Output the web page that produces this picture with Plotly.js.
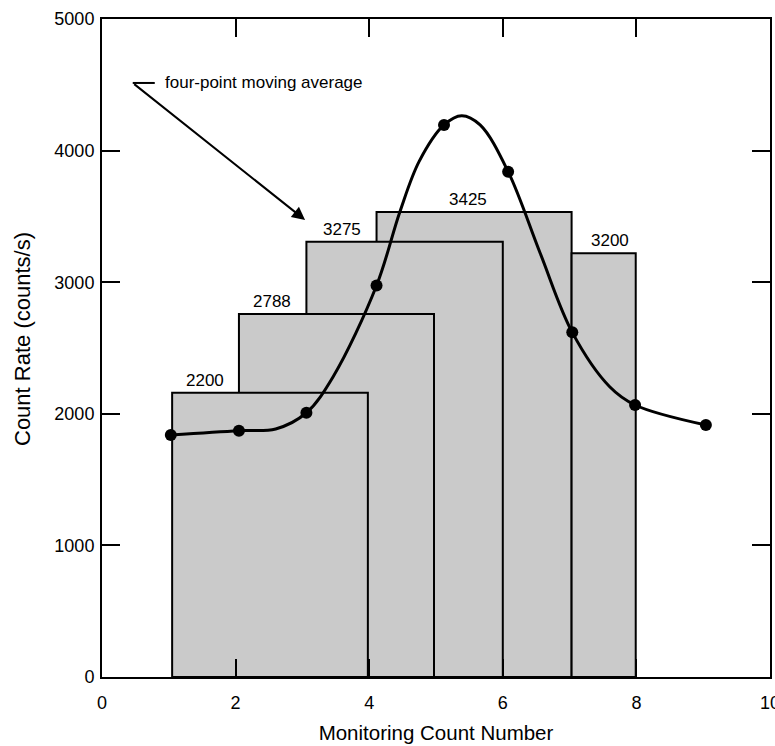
<!DOCTYPE html>
<html>
<head>
<meta charset="utf-8">
<script src="https://cdn.plot.ly/plotly-3.0.1.min.js"></script>
<style>html,body{margin:0;padding:0;background:#fff;}#chart{width:775px;height:746px;}</style>
</head>
<body>
<div id="chart"></div>
<script>
// Moving-average rectangles (drawing order: back to front)
const barLabels = ["2200", "2788", "3275", "3425", "3200"];
const barLeft   = [1.05, 2.05, 3.06, 4.11, 7.03];
const barRight  = [3.98, 4.97, 6.00, 7.03, 7.99];
const barHeight = [2160, 2758, 3308, 3533, 3220];
const labelX    = [1.54, 2.54, 3.59, 5.48, 7.60];
const drawOrder = [3, 2, 1, 0, 4];

// Count-rate points (markers)
const countX = [1.03, 2.05, 3.06, 4.11, 5.12, 6.08, 7.04, 7.98, 9.04];
const countY = [1839, 1872, 2008, 2975, 4195, 3840, 2619, 2067, 1915];

// Path of the drawn smooth curve
const curveX = [1.03, 2.05, 2.60, 3.06, 3.46, 4.11, 4.46, 4.75, 5.12, 5.385, 5.66, 6.08, 6.56, 7.04, 7.60, 7.98, 9.04];
const curveY = [1839, 1872, 1885, 2008, 2282, 2975, 3536, 3920, 4195, 4265, 4195, 3840, 3220, 2619, 2206, 2067, 1915];

// Arrow annotation
const noteText = "four-point moving average";
const arrowCorner = [0.46, 4514];
const arrowTickEnd = [0.79, 4514];
const arrowHead = [3.04, 3473];

const FONT = "Liberation Sans, Arial, sans-serif";

const traces = [];
drawOrder.forEach(i => {
  traces.push({
    type: "bar",
    x: [(barLeft[i] + barRight[i]) / 2],
    y: [barHeight[i]],
    width: [barRight[i] - barLeft[i]],
    marker: {color: "#cacaca", line: {color: "#000", width: 2}},
    hoverinfo: "skip",
    showlegend: false
  });
});
traces.push({
  type: "scatter", mode: "lines",
  x: [arrowCorner[0], arrowTickEnd[0]], y: [arrowCorner[1], arrowTickEnd[1]],
  line: {color: "#000", width: 2}, showlegend: false, hoverinfo: "skip"
});
traces.push({
  type: "scatter", mode: "lines",
  x: curveX, y: curveY,
  line: {color: "#000", width: 3, shape: "spline", smoothing: 1.0},
  showlegend: false, hoverinfo: "skip"
});
traces.push({
  type: "scatter", mode: "markers",
  x: countX, y: countY,
  marker: {color: "#000", size: 12},
  showlegend: false
});

const annotations = barLabels.map((t, i) => ({
  x: labelX[i], y: barHeight[i], xref: "x", yref: "y",
  text: t, showarrow: false, yanchor: "bottom", xanchor: "center",
  yshift: 1, font: {family: FONT, size: 17, color: "#000"}
}));
annotations.push({
  x: arrowHead[0], y: arrowHead[1], ax: arrowCorner[0], ay: arrowCorner[1],
  xref: "x", yref: "y", axref: "x", ayref: "y",
  text: "", showarrow: true, arrowhead: 2, arrowsize: 1.3, arrowwidth: 2, arrowcolor: "#000"
});
annotations.push({
  x: 0.91, y: arrowCorner[1], xref: "x", yref: "y",
  text: noteText, showarrow: false, xanchor: "left", yanchor: "middle",
  font: {family: FONT, size: 17, color: "#000"}
});
const L = 102, R = 5, T = 19, B = 69, W = 775, H = 746;
// y-axis title placed at its pixel position, converted to paper coordinates
annotations.push({
  x: (22 - L) / (W - L - R), y: 1 - (339 - T) / (H - T - B),
  xref: "paper", yref: "paper",
  text: "Count Rate (counts/s)", showarrow: false, textangle: -90,
  xanchor: "center", yanchor: "middle",
  font: {family: FONT, size: 22, color: "#000"}
});

const axisCommon = {
  showline: true, linecolor: "#000", linewidth: 2, mirror: "ticks",
  ticks: "inside", ticklen: 18, tickwidth: 2, tickcolor: "#000",
  showgrid: false, zeroline: false,
  tickfont: {family: FONT, size: 18, color: "#000"}
};

const layout = {
  width: W, height: H,
  margin: {l: L, r: R, t: T, b: B},
  paper_bgcolor: "#fff", plot_bgcolor: "#fff",
  barmode: "overlay", bargap: 0,
  xaxis: Object.assign({}, axisCommon, {
    range: [0, 10], tickvals: [0, 2, 4, 6, 8, 10],
    ticklabeloverflow: "allow", ticklabelstandoff: 8,
    title: {text: "Monitoring Count Number", font: {family: FONT, size: 20.5, color: "#000"}, standoff: 14}
  }),
  yaxis: Object.assign({}, axisCommon, {
    range: [0, 5000], tickvals: [0, 1000, 2000, 3000, 4000, 5000],
    ticklabelstandoff: 2
  }),
  annotations: annotations,
  showlegend: false
};

Plotly.newPlot("chart", traces, layout, {displayModeBar: false, staticPlot: true});
</script>
</body>
</html>
